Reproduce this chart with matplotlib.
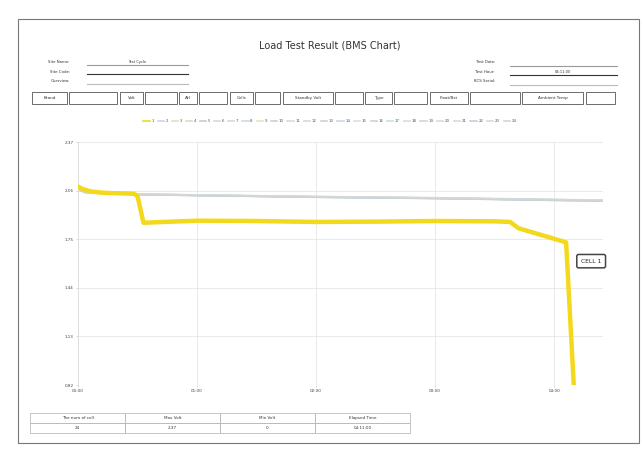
import matplotlib
matplotlib.use("Agg")
import matplotlib.pyplot as plt
from matplotlib.patches import Rectangle
from matplotlib.lines import Line2D

W, H = 641, 473

# ---------------- data ----------------
title = "Load Test Result (BMS Chart)"
left_fields = ["Site Name:", "Site Code:", "Overview:"]
left_values = ["Test Cycle", "", ""]
right_fields = ["Test Date:", "Test Hour:", "BCS Serial:"]
right_values = ["", "04:11:00", ""]
info_labels = ["Brand", "", "Volt", "", "AH", "", "Cells", "", "Standby Volt", "",
               "Type", "", "Float/Bst", "", "Ambient Temp", ""]
summary_headers = ["The num of cell", "Max Volt", "Min Volt", "Elapsed Time"]
summary_values = ["24", "2.37", "0", "04:11:00"]

y_ticks = [0.82, 1.13, 1.44, 1.75, 2.06, 2.37]
x_ticks_h = [0, 1, 2, 3, 4]
x_tick_labels = ["00:00", "01:00", "02:00", "03:00", "04:00"]

cell1_t = [0.00, 0.04, 0.10, 0.18, 0.28, 0.40, 0.47, 0.50, 0.55, 1.0, 1.5, 2.0, 2.5,
           3.0, 3.5, 3.63, 3.70, 4.10, 4.18]
cell1_v = [2.085, 2.070, 2.056, 2.048, 2.044, 2.042, 2.040, 2.025, 1.855, 1.868, 1.866,
           1.860, 1.862, 1.866, 1.864, 1.860, 1.820, 1.730, 0.60]

other_t = [0.00, 0.06, 0.25, 0.5, 1.0, 2.0, 3.0, 4.0, 4.40]
other_v = [
    [2.070, 2.050, 2.042, 2.036, 2.030, 2.020, 2.012, 2.000, 1.996],
    [2.068, 2.049, 2.041, 2.035, 2.029, 2.018, 2.010, 1.999, 1.995],
    [2.072, 2.052, 2.044, 2.038, 2.032, 2.022, 2.014, 2.003, 1.999],
    [2.066, 2.047, 2.040, 2.034, 2.028, 2.017, 2.009, 1.997, 1.993],
    [2.069, 2.051, 2.043, 2.037, 2.031, 2.021, 2.013, 2.002, 1.998],
    [2.071, 2.053, 2.045, 2.039, 2.033, 2.023, 2.015, 2.004, 2.000],
    [2.067, 2.048, 2.041, 2.035, 2.029, 2.019, 2.011, 1.999, 1.995],
    [2.070, 2.050, 2.043, 2.037, 2.031, 2.020, 2.012, 2.001, 1.997],
    [2.065, 2.046, 2.039, 2.033, 2.027, 2.016, 2.008, 1.996, 1.992],
    [2.073, 2.054, 2.046, 2.040, 2.034, 2.024, 2.016, 2.005, 2.001],
    [2.068, 2.049, 2.042, 2.036, 2.030, 2.019, 2.011, 2.000, 1.996],
    [2.069, 2.050, 2.042, 2.036, 2.030, 2.020, 2.012, 2.001, 1.997],
    [2.066, 2.048, 2.040, 2.034, 2.028, 2.018, 2.010, 1.998, 1.994],
    [2.072, 2.053, 2.045, 2.039, 2.033, 2.022, 2.014, 2.003, 1.999],
    [2.070, 2.051, 2.043, 2.037, 2.031, 2.021, 2.013, 2.002, 1.998],
    [2.067, 2.048, 2.041, 2.035, 2.029, 2.018, 2.010, 1.999, 1.995],
    [2.071, 2.052, 2.044, 2.038, 2.032, 2.021, 2.013, 2.002, 1.998],
    [2.069, 2.049, 2.042, 2.036, 2.030, 2.019, 2.011, 2.000, 1.996],
    [2.068, 2.050, 2.043, 2.037, 2.031, 2.020, 2.012, 2.001, 1.997],
    [2.070, 2.051, 2.044, 2.038, 2.032, 2.021, 2.013, 2.002, 1.998],
    [2.066, 2.047, 2.040, 2.034, 2.028, 2.017, 2.009, 1.998, 1.994],
    [2.072, 2.052, 2.045, 2.039, 2.033, 2.022, 2.014, 2.003, 1.999],
    [2.069, 2.050, 2.043, 2.037, 2.031, 2.020, 2.012, 2.001, 1.997],
]
cell_names = [str(i) for i in range(1, 25)]

# ---------------- figure ----------------
fig = plt.figure(figsize=(W / 100, H / 100), dpi=100)
fig.patch.set_facecolor("white")

def fx(x):
    return x / W

def fy(y):
    return 1 - y / H

def ftext(x, y, s, size=3.2, ha="left", **kw):
    fig.text(fx(x), fy(y), s, fontsize=size, ha=ha, va="center", color="#333333", **kw)

def fline(x0, x1, y, color="#555555", lw=0.8):
    fig.add_artist(Line2D([fx(x0), fx(x1)], [fy(y), fy(y)], color=color, lw=lw))

def frect(x0, y0, x1, y1, ec="#555555", lw=0.6, fc="none"):
    fig.add_artist(Rectangle((fx(x0), fy(y1)), fx(x1) - fx(x0), fy(y0) - fy(y1),
                             transform=fig.transFigure, ec=ec, fc=fc, lw=lw))

# page frame
frect(18, 19, 639, 443, ec="#777777", lw=0.8)

# title
ftext(330, 46, title, size=7, ha="center")

# header fields
for i, (lab, val) in enumerate(zip(left_fields, left_values)):
    y = 62 + i * 9.5
    ftext(70, y, lab, size=2.8, ha="right")
    fline(87, 188, y + 3, color=["#999999", "#333333", "#bbbbbb"][i])
    if val:
        ftext(137, y, val, size=2.6, ha="center")
for i, (lab, val) in enumerate(zip(right_fields, right_values)):
    y = 62 + i * 9.5
    ftext(495, y, lab, size=2.8, ha="right")
    fline(510, 617, y + 4, color=["#999999", "#333333", "#bbbbbb"][i])
    if val:
        ftext(563, y + 0.5, val, size=2.6, ha="center")

# info table row
edges = [32, 67, 69, 117, 120, 143, 145, 177, 179, 197, 199, 227, 230, 253, 255, 280,
         283, 333, 335, 363, 365, 392, 394, 427, 430, 468, 470, 520, 522, 583, 586, 615]
for k, lab in enumerate(info_labels):
    x0, x1 = edges[2 * k], edges[2 * k + 1]
    frect(x0, 92, x1, 104, ec="#555555", lw=0.6)
    if lab:
        ftext((x0 + x1) / 2, 98, lab, size=3, ha="center")

# ---------------- chart ----------------
ax = fig.add_axes([fx(78), fy(385), fx(603) - fx(78), fy(142) - fy(385)])
other_colors = ["#c8d8e0", "#d8e4c8", "#e0d8c0", "#c0d0d8", "#d0dce4", "#d8d8d8",
                "#c8dce8", "#e4e0c8", "#c4d4dc", "#d4e0d0", "#cfd9e3", "#d8d0c8",
                "#c8d8e8", "#dde4d0", "#d0d0d8", "#c8e0e0", "#e0dcd0", "#ccd8dc",
                "#d4dce8", "#dcdcc8", "#c4d0e0", "#d0e0d8", "#d8d4d0"]
for v, c in zip(other_v, other_colors):
    ax.plot(other_t, v, color=c, lw=0.9, alpha=0.9)
ax.plot(cell1_t, cell1_v, color="#f4d81c", lw=3.2, solid_joinstyle="round", zorder=5)

ax.set_xlim(0, 4.41)
ax.set_ylim(0.82, 2.37)
ax.set_yticks(y_ticks)
ax.set_yticklabels([f"{v:.2f}" for v in y_ticks], fontsize=3, color="#444444")
ax.set_xticks(x_ticks_h)
ax.set_xticklabels(x_tick_labels, fontsize=3, color="#444444")
ax.tick_params(length=1.5, width=0.4, color="#bbbbbb", pad=1.5)
ax.grid(True, color="#e6e6e6", lw=0.6)
for s in ["top", "right", "bottom"]:
    ax.spines[s].set_visible(False)
ax.spines["left"].set_color("#dddddd")
ax.spines["left"].set_linewidth(0.6)

# end label
ax.annotate("CELL 1", xy=(4.18, 1.61), xytext=(4.225, 1.61), fontsize=4.3, color="#222222",
            ha="left", va="center", annotation_clip=False,
            bbox=dict(boxstyle="round,pad=0.7,rounding_size=0.3", fc="white", ec="#444444", lw=1.1))

# legend row
leg_handles = [Line2D([], [], color="#f4d81c", lw=1.2)] + \
              [Line2D([], [], color=c, lw=1.2) for c in other_colors]
fig.legend(leg_handles, cell_names, ncol=24, loc="center", bbox_to_anchor=(fx(330), fy(121)),
           fontsize=2.8, frameon=False, handlelength=1.6, columnspacing=1.0, handletextpad=0.4,
           labelcolor="#555555")

# summary table
sx = [30, 125, 220, 315, 410]
for k, (h, v) in enumerate(zip(summary_headers, summary_values)):
    frect(sx[k], 413, sx[k + 1], 423, ec="#bbbbbb", lw=0.6)
    frect(sx[k], 423, sx[k + 1], 433, ec="#bbbbbb", lw=0.6)
    ftext((sx[k] + sx[k + 1]) / 2, 418, h, size=3, ha="center")
    ftext((sx[k] + sx[k + 1]) / 2, 428, v, size=3, ha="center")

fig.savefig("out.png", dpi=100, facecolor="white")
